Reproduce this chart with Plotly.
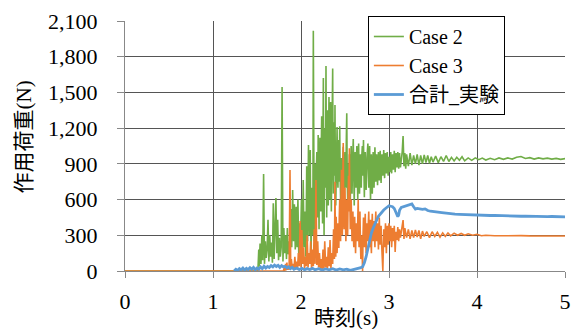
import plotly.graph_objects as go

# ---------------- data ----------------
case2_t = [0, 1.50, 1.51, 1.52, 1.525, 1.535, 1.545, 1.555, 1.565, 1.575, 1.585, 1.595, 1.605, 1.615, 1.625,
           1.635, 1.645, 1.655, 1.665, 1.675, 1.685, 1.695, 1.705, 1.715, 1.725, 1.735, 1.745, 1.755, 1.765,
           1.775, 1.785, 1.795, 1.805, 1.815, 1.825, 1.835, 1.845, 1.855, 1.865, 1.875, 1.885, 1.895, 1.905,
           1.915, 1.925, 1.935, 1.945, 1.955, 1.965, 1.975, 1.985, 1.995, 2.005, 2.015, 2.025, 2.035, 2.045,
           2.055, 2.065, 2.075, 2.085, 2.095,
           2.100, 2.105, 2.110, 2.115, 2.120, 2.125, 2.130, 2.135, 2.140, 2.145, 2.150, 2.155, 2.160, 2.165,
           2.170, 2.175, 2.180, 2.185, 2.190, 2.195, 2.200, 2.205, 2.210, 2.215, 2.220, 2.225, 2.230, 2.235,
           2.240, 2.245, 2.250, 2.254, 2.258, 2.262, 2.267, 2.272, 2.278, 2.284, 2.288, 2.292, 2.296, 2.300,
           2.305, 2.310, 2.314, 2.318, 2.322, 2.326, 2.331, 2.337, 2.341, 2.345, 2.350, 2.355, 2.360, 2.364,
           2.368, 2.373, 2.378, 2.382, 2.386, 2.390, 2.395, 2.400, 2.405, 2.410, 2.415, 2.420, 2.425, 2.430,
           2.435, 2.440, 2.445, 2.450, 2.455, 2.460, 2.465, 2.470, 2.475, 2.480, 2.485, 2.490, 2.495, 2.500,
           2.505, 2.510, 2.515, 2.520, 2.525, 2.530, 2.535, 2.540, 2.545, 2.550, 2.555, 2.560, 2.565, 2.570,
           2.575, 2.580, 2.587, 2.594, 2.600, 2.605, 2.610, 2.615, 2.620, 2.625, 2.630, 2.635, 2.640, 2.645,
           2.650, 2.655, 2.660, 2.665, 2.670, 2.675, 2.680, 2.685, 2.690, 2.697, 2.703, 2.710, 2.715, 2.720,
           2.725, 2.730, 2.735, 2.740, 2.750, 2.760, 2.765, 2.770, 2.775, 2.780, 2.785, 2.790,
           2.80, 2.81, 2.82, 2.83, 2.84, 2.85, 2.86, 2.87, 2.88, 2.89, 2.90, 2.91, 2.92, 2.93, 2.94, 2.95, 2.96,
           2.97, 2.98, 2.99, 3.00, 3.01, 3.02, 3.03, 3.04, 3.05, 3.06, 3.07, 3.08, 3.09, 3.10, 3.11, 3.12,
           3.13, 3.15, 3.16, 3.17, 3.18, 3.19, 3.20, 3.22, 3.24, 3.26, 3.28, 3.30, 3.32, 3.34, 3.36, 3.38,
           3.40, 3.42, 3.44, 3.46, 3.48, 3.50, 3.53, 3.56, 3.59, 3.62, 3.65, 3.68, 3.71, 3.74, 3.77, 3.80,
           3.83, 3.86, 3.90, 3.94, 3.98, 4.02, 4.06, 4.10, 4.15, 4.20, 4.25, 4.30, 4.35, 4.40, 4.45, 4.50,
           4.55, 4.60, 4.65, 4.70, 4.75, 4.80, 4.85, 4.90, 4.95, 5.00]
case2_v = [0, 0, 0, 180, 40, 230, 60, 300, 90, 815, 60, 250, 110, 180, 430,
           80, 300, 120, 240, 70, 570, 100, 350, 613, 150, 430, 90, 280, 120,
           200, 1546, 80, 360, 150, 300, 100, 360, 140, 250, 180, 520, 200, 680,
           250, 560, 180, 540, 200, 600, 120, 400, 250, 600, 150, 764, 200, 500,
           120, 880, 250, 1058, 300,
           900, 1016, 400, 150, 600, 700, 300, 350, 2018, 600, 250, 800, 900, 400,
           300, 850, 1000, 500, 450, 1142, 700, 350, 900, 1120, 600, 500, 1000, 1300,
           700, 400, 1100, 1621, 800, 300, 900, 1200, 700, 1722, 900, 450, 1000, 1350,
           800, 550, 1100, 1462, 900, 600, 1200, 1420, 800, 500, 1000, 1300, 1700, 900,
           650, 1100, 1250, 800, 1394, 900, 550, 1000, 1100, 1210, 800, 700, 1000, 1100,
           750, 1215, 800, 600, 900, 950, 700, 650, 950, 1044, 700, 520, 850, 1000,
           800, 700, 1100, 1326, 800, 600, 850, 900, 700, 980, 750, 560, 900, 1050,
           800, 650, 950, 1109, 800, 550, 900, 1000, 800, 700, 950, 1050, 800, 600,
           900, 1070, 800, 650, 900, 980, 800, 700, 950, 1050, 800, 1100, 850, 620,
           900, 1000, 800, 680, 950, 1070, 850, 700, 900, 1050, 800, 600,
           980, 650, 1000, 700, 1040, 750, 980, 720, 1000, 760, 1010, 740, 980, 800, 1016, 780, 990,
           820, 1000, 800, 960, 830, 1000, 820, 980, 850, 1010, 830, 990, 870, 1000, 860, 990,
           870, 1000, 1134, 880, 990, 860, 980, 880, 990, 890, 970, 900, 980, 890, 970, 900,
           975, 910, 970, 905, 960, 915, 965, 910, 960, 920, 970, 920, 955, 925, 955, 930,
           960, 925, 950, 930, 950, 935, 948, 932, 947, 935, 950, 938, 950, 940, 955, 962,
           945, 952, 940, 950, 942, 948, 940, 946, 938, 944]

case3_t = [0, 1.80, 1.81, 1.815, 1.825, 1.83, 1.84, 1.845, 1.855, 1.865, 1.875, 1.883, 1.89, 1.90, 1.91,
           1.92, 1.93, 1.94, 1.95, 1.96, 1.97, 1.98, 1.99, 2.00, 2.01, 2.02, 2.03, 2.04, 2.05, 2.06, 2.07,
           2.08, 2.09, 2.10, 2.11, 2.12, 2.13, 2.14, 2.15, 2.16, 2.17, 2.18, 2.19, 2.20, 2.21, 2.22, 2.23,
           2.24, 2.25, 2.26, 2.27, 2.28, 2.29, 2.30, 2.31, 2.32, 2.33, 2.34, 2.35, 2.36, 2.37,
           2.380, 2.386, 2.390, 2.395, 2.400, 2.405, 2.410, 2.415, 2.420, 2.425, 2.430, 2.435, 2.440, 2.445,
           2.450, 2.455, 2.460, 2.465, 2.470, 2.475, 2.480, 2.485, 2.490, 2.495, 2.500, 2.505, 2.510, 2.515,
           2.520, 2.525, 2.530, 2.535, 2.540, 2.545, 2.550, 2.555, 2.560, 2.565, 2.570, 2.575, 2.580, 2.585,
           2.590, 2.595, 2.600, 2.605, 2.610, 2.615, 2.620, 2.625, 2.630, 2.635, 2.640, 2.645, 2.650, 2.655,
           2.660, 2.665, 2.670, 2.675, 2.680, 2.690, 2.700, 2.705, 2.710, 2.715, 2.720, 2.725, 2.730, 2.735,
           2.740, 2.745, 2.750, 2.755, 2.760, 2.765, 2.770, 2.775, 2.780, 2.785, 2.790, 2.795, 2.800, 2.805,
           2.810, 2.815, 2.820, 2.825, 2.830, 2.835, 2.840, 2.845, 2.850, 2.855, 2.860, 2.865, 2.870, 2.875,
           2.880, 2.885, 2.890, 2.895, 2.900, 2.905, 2.910, 2.915, 2.920, 2.930,
           2.94, 2.95, 2.96, 2.97, 2.98, 2.99, 3.00, 3.01, 3.02, 3.03,
           3.04, 3.05, 3.06, 3.07, 3.08, 3.09, 3.10, 3.11, 3.12, 3.13, 3.15, 3.16, 3.17, 3.18, 3.20, 3.22,
           3.24, 3.26, 3.28, 3.30, 3.32, 3.34, 3.36, 3.38, 3.40, 3.43, 3.46, 3.49, 3.52, 3.55, 3.58, 3.61,
           3.64, 3.67, 3.70, 3.74, 3.78, 3.82, 3.86, 3.90, 3.95, 4.00, 4.05, 4.10, 4.20, 4.30, 4.40, 4.50,
           4.60, 4.70, 4.80, 4.90, 5.00]
case3_v = [0, 0, 30, 0, 60, 5, 70, 10, 40, 10, 848, 20, 100, 30, 60,
           10, 120, 20, 80, 10, 150, 40, 420, 30, 344, 60, 200, 20, 120, 40, 300,
           30, 150, 60, 250, 20, 180, 40, 350, 60, 764, 50, 250, 30, 150, 20, 100,
           10, 180, 20, 250, 30, 120, 10, 200, 40, 260, 20, 150, 60, 350,
           100, 750, 300, 120, 456, 250, 150, 350, 400, 200, 200, 450, 600, 350,
           250, 600, 850, 450, 300, 700, 1075, 500, 350, 550, 700, 400, 250, 450,
           600, 400, 300, 600, 800, 500, 1030, 600, 350, 500, 600, 400, 250, 400,
           500, 300, 200, 350, 456, 300, 150, 300, 400, 350, 250, 450, 600, 350,
           200, 400, 500, 250, 100, 300, 0, 300, 450, 300, 200, 350, 480, 300,
           150, 300, 400, 300, 250, 400, 500, 300, 200, 350, 430, 250, 150, 350,
           480, 350, 250, 350, 420, 300, 200, 400, 500, 350, 250, 300, 400, 300,
           180, 350, 450, 300, 220, 330, 380, 250, 150, 0,
           350, 200, 400, 150, 380, 220, 400, 250, 380, 200,
           360, 250, 380, 160, 330, 260, 370, 250, 350, 280, 380, 428, 270, 360, 280, 350,
           270, 340, 280, 345, 285, 340, 270, 335, 290, 330, 280, 330, 290, 325, 285, 320,
           290, 320, 295, 318, 300, 315, 300, 312, 300, 308, 296, 300, 296, 298, 295, 297,
           295, 296, 294, 295, 294]

total_t = [1.24, 1.26, 1.28, 1.30, 1.32, 1.34, 1.36, 1.38, 1.40, 1.42, 1.44, 1.46, 1.48, 1.50, 1.52,
           1.54, 1.56, 1.58, 1.60, 1.62, 1.64, 1.66, 1.68, 1.70, 1.72, 1.74, 1.76, 1.78, 1.80, 1.82,
           1.84, 1.86, 1.88, 1.90, 1.92, 1.95, 1.98, 2.01, 2.04, 2.07, 2.10, 2.13, 2.16, 2.20, 2.24,
           2.28, 2.32, 2.36, 2.40, 2.44, 2.48, 2.52, 2.56, 2.60, 2.63, 2.66, 2.68, 2.70, 2.72, 2.74,
           2.76, 2.78, 2.80, 2.82, 2.84, 2.86, 2.88, 2.90, 2.92, 2.94, 2.96, 2.98, 3.00, 3.02, 3.04,
           3.06, 3.08, 3.09, 3.10, 3.11, 3.12, 3.14, 3.16, 3.18, 3.20, 3.22, 3.24, 3.26, 3.28, 3.30,
           3.32, 3.35, 3.38, 3.41, 3.44, 3.47, 3.50, 3.55, 3.60, 3.65, 3.70, 3.75, 3.80, 3.85, 3.90,
           3.95, 4.00, 4.05, 4.10, 4.15, 4.20, 4.25, 4.30, 4.35, 4.40, 4.45, 4.50, 4.55, 4.60, 4.65,
           4.70, 4.75, 4.80, 4.85, 4.90, 4.95, 5.00]
total_v = [0, 15, 5, 20, 10, 25, 8, 22, 12, 28, 15, 30, 10, 25, 15,
           35, 20, 40, 25, 38, 30, 45, 35, 50, 38, 48, 30, 45, 35, 40,
           25, 35, 20, 30, 15, 25, 12, 22, 10, 20, 12, 22, 10, 20, 8,
           18, 10, 20, 8, 18, 10, 15, 5, 12, 15, 20, 28, 36, 70, 120,
           190, 280, 320, 360, 400, 428, 460, 480, 500, 512, 525, 538, 548, 544, 540,
           525, 490, 460, 456, 470, 510, 535, 540, 546, 550, 556, 562, 563, 540, 520,
           526, 520, 518, 522, 508, 502, 498, 494, 490, 486, 480, 478, 476, 474, 472,
           471, 470, 468, 469, 466, 467, 465, 464, 465, 462, 463, 460, 461, 459, 460,
           458, 459, 457, 458, 456, 457, 455]

x_ticks = [0, 1, 2, 3, 4, 5]
y_ticks = [0, 300, 600, 900, 1200, 1500, 1800, 2100]
x_title = "時刻(s)"
y_title = "作用荷重(N)"

# ---------------- figure ----------------
serif = "Liberation Serif, Noto Sans CJK JP"
fig = go.Figure()
fig.add_trace(go.Scatter(x=case2_t, y=case2_v, mode="lines", name="Case 2",
                         line=dict(color="#70AD47", width=1.6)))
fig.add_trace(go.Scatter(x=case3_t, y=case3_v, mode="lines", name="Case 3",
                         line=dict(color="#ED7D31", width=1.6)))
fig.add_trace(go.Scatter(x=total_t, y=total_v, mode="lines", name="合計_実験",
                         line=dict(color="#5B9BD5", width=2.8)))

fig.update_layout(
    width=571, height=329,
    margin=dict(l=125, r=6, t=21, b=58, autoexpand=False),
    paper_bgcolor="white", plot_bgcolor="white",
    font=dict(family=serif, size=22, color="#000000"),
    showlegend=True,
    legend=dict(x=0.552, y=1.02, xanchor="left", yanchor="top",
                bgcolor="white", bordercolor="#000000", borderwidth=1,
                font=dict(family=serif, size=20), itemwidth=30,
                tracegroupgap=0),
)
fig.update_xaxes(
    range=[0, 5], tickvals=x_ticks, ticktext=[str(v) for v in x_ticks],
    showgrid=True, gridcolor="#555555", gridwidth=1,
    showline=True, linecolor="#888888", linewidth=1,
    ticks="outside", ticklen=6, tickcolor="#888888",
    zeroline=False, ticklabelstandoff=5,
    tickfont=dict(family=serif, size=22),
)
fig.update_yaxes(
    range=[0, 2100], tickvals=y_ticks, tickformat=",d",
    showgrid=True, gridcolor="#555555", gridwidth=1,
    showline=True, linecolor="#888888", linewidth=1,
    ticks="outside", ticklen=7, tickcolor="#888888",
    zeroline=False, ticklabelstandoff=15,
    tickfont=dict(family=serif, size=22),
)
fig.add_annotation(text=y_title, xref="paper", yref="paper", x=-0.2318, y=0.534,
                   textangle=-90, showarrow=False, xanchor="center", yanchor="middle",
                   font=dict(family=serif, size=21, color="#000000"))
fig.add_annotation(text=x_title, xref="paper", yref="paper", x=0.502, y=-0.188,
                   showarrow=False, xanchor="center", yanchor="middle",
                   font=dict(family=serif, size=21, color="#000000"))

fig.write_html("out.html", config={"displayModeBar": False},
               post_script="document.body.style.margin='0';")
